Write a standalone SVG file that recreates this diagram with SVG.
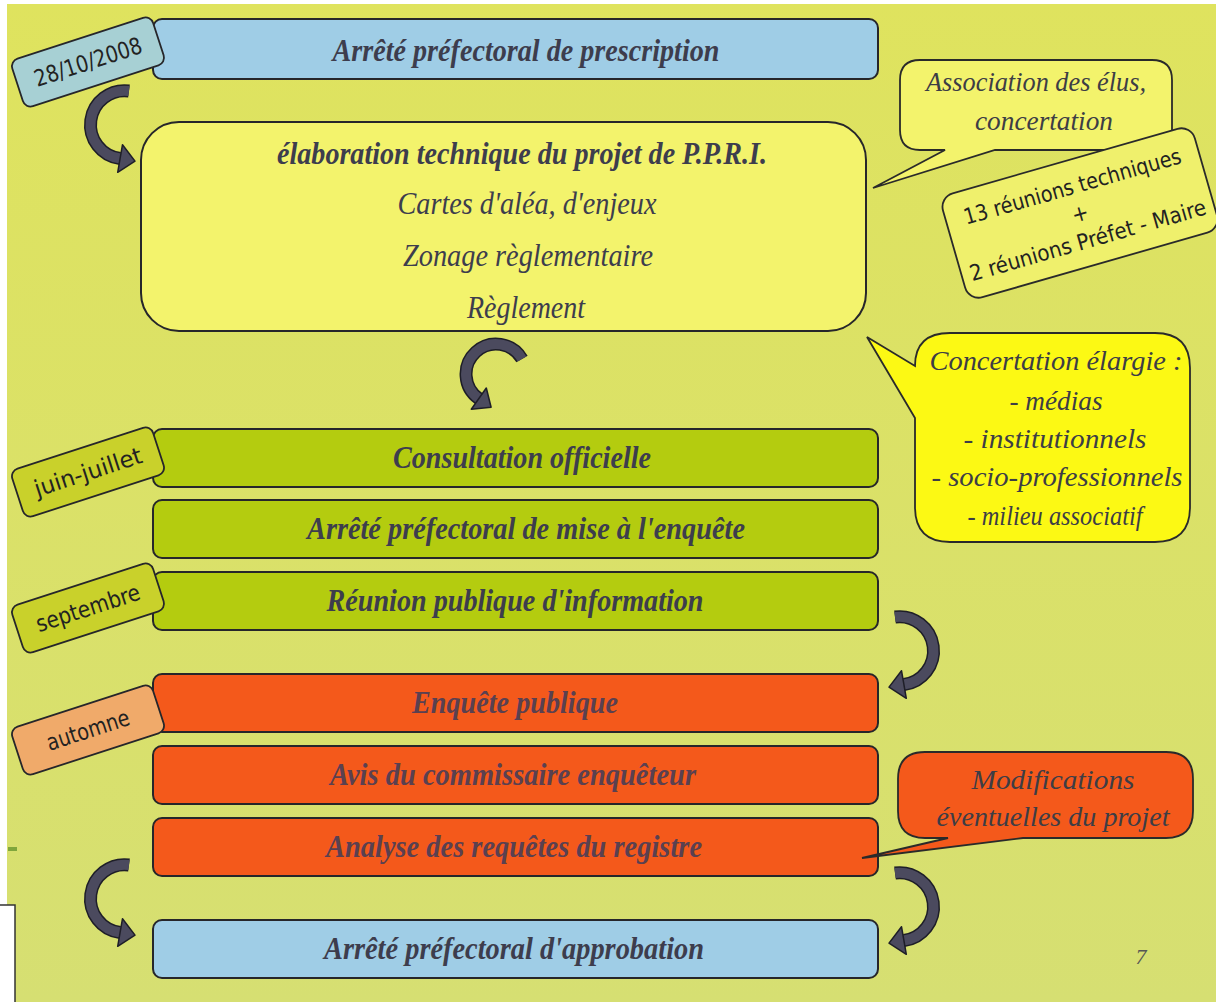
<svg xmlns="http://www.w3.org/2000/svg" width="1216" height="1002" viewBox="0 0 1216 1002">
<defs>
<linearGradient id="bg" x1="0" y1="0" x2="0" y2="1">
<stop offset="0" stop-color="#dfe35e"/>
<stop offset="1" stop-color="#d6df72"/>
</linearGradient>
<style>
.box{stroke:#26262a;stroke-width:2}
.blue{fill:#9fcde6}
.yel{fill:#f3f36c}
.grn{fill:#b4cc0f}
.org{fill:#f4591b}
.t{font-family:"Liberation Serif",serif;font-style:italic;font-size:31px;fill:#3d3d4d;text-anchor:middle}
.b{font-weight:bold}
.to{fill:#5a4050}
.tag rect{stroke:#26262a;stroke-width:1.8}
.tag text{font-family:"DejaVu Sans Condensed","DejaVu Sans",sans-serif;font-size:23px;fill:#222;text-anchor:middle}
.co{stroke:#2a2a2a;stroke-width:1.8}
.ct{font-family:"Liberation Serif",serif;font-style:italic;font-size:27px;fill:#3d3d45;text-anchor:middle}
.aout{fill:none;stroke:#1e1e28;stroke-width:13}
.ain{fill:none;stroke:#4b4a5e;stroke-width:10}
.ah{fill:#4b4a5e;stroke:#1e1e28;stroke-width:1.5;stroke-linejoin:round}
</style>
<g id="arrowC">
<path class="aout" d="M129 91 A34 34 0 1 0 120.1 158.5"/>
<path class="ain" d="M129 91 A34 34 0 1 0 120.1 158.5"/>
<polygon class="ah" points="117.7,172.3 122.5,144.7 135,161.1"/>
</g>
</defs>
<rect x="0" y="0" width="1216" height="1002" fill="url(#bg)"/>
<rect x="0" y="0" width="1216" height="4" fill="#ffffff"/>
<rect x="0" y="0" width="7" height="1002" fill="#ffffff"/>
<rect x="8" y="847" width="9" height="4" fill="#7fa63c"/>
<path d="M0 905 H15 V1002 H0 Z" fill="#ffffff"/>
<path d="M0 905 H15 V1002" fill="none" stroke="#333" stroke-width="1.5"/>

<g id="node-prescription">
<rect class="box blue" x="153" y="19" width="725" height="60" rx="9"/>
<text class="t b" x="526" y="61" textLength="387" lengthAdjust="spacingAndGlyphs">Arrêté préfectoral de prescription</text>
</g>
<g id="node-elaboration">
<rect class="box yel" x="141" y="122" width="725" height="209" rx="38"/>
<text class="t b" x="522" y="164" textLength="490" lengthAdjust="spacingAndGlyphs">élaboration technique du projet de P.P.R.I.</text>
<text class="t" x="527" y="214" textLength="259" lengthAdjust="spacingAndGlyphs">Cartes d'aléa, d'enjeux</text>
<text class="t" x="528" y="266" textLength="250" lengthAdjust="spacingAndGlyphs">Zonage règlementaire</text>
<text class="t" x="526" y="318" textLength="118" lengthAdjust="spacingAndGlyphs">Règlement</text>
</g>
<g id="node-consultation">
<rect class="box grn" x="153" y="429" width="725" height="58" rx="9"/>
<text class="t b" x="522" y="468" textLength="258" lengthAdjust="spacingAndGlyphs">Consultation officielle</text>
</g>
<g id="node-mise-enquete">
<rect class="box grn" x="153" y="500" width="725" height="58" rx="9"/>
<text class="t b" x="526" y="539" textLength="438" lengthAdjust="spacingAndGlyphs">Arrêté préfectoral de mise à l'enquête</text>
</g>
<g id="node-reunion">
<rect class="box grn" x="153" y="572" width="725" height="58" rx="9"/>
<text class="t b" x="515" y="611" textLength="377" lengthAdjust="spacingAndGlyphs">Réunion publique d'information</text>
</g>
<g id="node-enquete">
<rect class="box org" x="153" y="674" width="725" height="58" rx="9"/>
<text class="t b to" x="515" y="713" textLength="206" lengthAdjust="spacingAndGlyphs">Enquête publique</text>
</g>
<g id="node-avis">
<rect class="box org" x="153" y="746" width="725" height="58" rx="9"/>
<text class="t b to" x="513" y="785" textLength="366" lengthAdjust="spacingAndGlyphs">Avis du commissaire enquêteur</text>
</g>
<g id="node-analyse">
<rect class="box org" x="153" y="818" width="725" height="58" rx="9"/>
<text class="t b to" x="514" y="857" textLength="376" lengthAdjust="spacingAndGlyphs">Analyse des requêtes du registre</text>
</g>
<g id="node-approbation">
<rect class="box blue" x="153" y="920" width="725" height="58" rx="9"/>
<text class="t b" x="514" y="959" textLength="380" lengthAdjust="spacingAndGlyphs">Arrêté préfectoral d'approbation</text>
</g>

<g id="tag-date" class="tag" transform="translate(88,62) rotate(-18)">
<rect x="-74" y="-25" width="148" height="50" rx="8" fill="#a7d0d4"/>
<text x="0" y="8" textLength="112" lengthAdjust="spacingAndGlyphs">28/10/2008</text>
</g>
<g id="tag-juin" class="tag" transform="translate(88,472) rotate(-18)">
<rect x="-74" y="-25" width="148" height="50" rx="8" fill="#c9d12b"/>
<text x="0" y="8" textLength="112" lengthAdjust="spacingAndGlyphs">juin-juillet</text>
</g>
<g id="tag-septembre" class="tag" transform="translate(88,608) rotate(-18)">
<rect x="-74" y="-25" width="148" height="50" rx="8" fill="#c9d12b"/>
<text x="0" y="8" textLength="108" lengthAdjust="spacingAndGlyphs">septembre</text>
</g>
<g id="tag-automne" class="tag" transform="translate(88,730) rotate(-18)">
<rect x="-74" y="-25" width="148" height="50" rx="8" fill="#f0aa6a"/>
<text x="0" y="8" textLength="86" lengthAdjust="spacingAndGlyphs">automne</text>
</g>

<g id="callout-association">
<path class="co" fill="#f3f36c" d="M920 60 H1152 Q1172 60 1172 80 V130 Q1172 150 1152 150 H995 L873 188 L945 150 H920 Q900 150 900 130 V80 Q900 60 920 60 Z"/>
<text class="ct" x="1036" y="91" textLength="220" lengthAdjust="spacingAndGlyphs">Association des élus,</text>
<text class="ct" x="1044" y="130" textLength="138" lengthAdjust="spacingAndGlyphs">concertation</text>
</g>
<g id="callout-reunions" transform="translate(1080,213) rotate(-16)">
<rect class="co" x="-131" y="-54" width="262" height="108" rx="14" fill="#eff06c"/>
<text x="0" y="-20" font-family="DejaVu Sans Condensed, DejaVu Sans, sans-serif" font-size="22" fill="#222" text-anchor="middle" textLength="225" lengthAdjust="spacingAndGlyphs">13 réunions techniques</text>
<text x="0" y="8" font-family="DejaVu Sans Condensed, DejaVu Sans, sans-serif" font-size="22" fill="#222" text-anchor="middle">+</text>
<text x="0" y="36" font-family="DejaVu Sans Condensed, DejaVu Sans, sans-serif" font-size="22" fill="#222" text-anchor="middle" textLength="245" lengthAdjust="spacingAndGlyphs">2 réunions Préfet - Maire</text>
</g>
<g id="callout-concertation">
<path class="co" fill="#fcf914" d="M950 333 H1155 Q1190 333 1190 368 V507 Q1190 542 1155 542 H950 Q915 542 915 507 V418 L867 337 L915 366 Q915 333 950 333 Z"/>
<text class="ct" x="1056" y="370" textLength="253" lengthAdjust="spacingAndGlyphs">Concertation élargie :</text>
<text class="ct" x="1056" y="410" textLength="93" lengthAdjust="spacingAndGlyphs">- médias</text>
<text class="ct" x="1055" y="448" textLength="183" lengthAdjust="spacingAndGlyphs">- institutionnels</text>
<text class="ct" x="1057" y="486" textLength="251" lengthAdjust="spacingAndGlyphs">- socio-professionnels</text>
<text class="ct" x="1055" y="525" textLength="175" lengthAdjust="spacingAndGlyphs">- milieu associatif</text>
</g>
<g id="callout-modifications">
<path class="co" fill="#f4591b" d="M925 752 H1166 Q1193 752 1193 779 V811 Q1193 838 1166 838 H1023 L862 858 L948 838 H925 Q898 838 898 811 V779 Q898 752 925 752 Z"/>
<text class="ct" x="1053" y="789" fill="#5c4a5c" textLength="163" lengthAdjust="spacingAndGlyphs">Modifications</text>
<text class="ct" x="1053" y="826" fill="#5c4a5c" textLength="233" lengthAdjust="spacingAndGlyphs">éventuelles du projet</text>
</g>

<g id="connectors">
<use href="#arrowC"/>
<g id="arrow-middle">
<path class="aout" d="M522 359 A30 30 0 1 0 478.8 398.6"/>
<path class="ain" d="M522 359 A30 30 0 1 0 478.8 398.6"/>
<polygon class="ah" points="471.3,409.2 486.3,388 491.1,407.2"/>
</g>
<use href="#arrowC" transform="translate(1024,526) scale(-1,1)"/>
<use href="#arrowC" transform="translate(1024,782) scale(-1,1)"/>
<use href="#arrowC" transform="translate(0,774)"/>
</g>

<text x="1141" y="964" font-family="Liberation Serif, serif" font-style="italic" font-size="22" fill="#555" text-anchor="middle">7</text>
</svg>
